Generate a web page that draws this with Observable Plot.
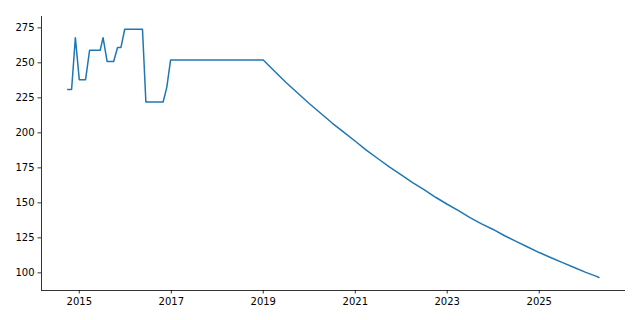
<!DOCTYPE html>
<html>
<head>
<meta charset="utf-8">
<script src="https://cdn.jsdelivr.net/npm/d3@7"></script>
<script src="https://cdn.jsdelivr.net/npm/@observablehq/plot@0.6"></script>
<style>
  html, body { margin: 0; padding: 0; background: #fff; }
  #chart svg { display: block; }
</style>
</head>
<body>
<div id="chart"></div>
<script>
// Dates and values
const dates = [
  "2014-10-01", "2014-11-01", "2014-12-01", "2015-01-01", "2015-02-20",
  "2015-03-24", "2015-06-16", "2015-07-09", "2015-08-10", "2015-10-01",
  "2015-11-01", "2015-11-28", "2015-12-28", "2016-05-17", "2016-06-13",
  "2016-10-28", "2016-11-26", "2016-12-26",
  "2019-01-01", "2019-04-01", "2019-07-01", "2019-10-01",
  "2020-01-01", "2020-04-01", "2020-07-01", "2020-10-01",
  "2021-01-01", "2021-04-01", "2021-07-01", "2021-10-01",
  "2022-01-01", "2022-04-01", "2022-07-01", "2022-10-01",
  "2023-01-01", "2023-04-01", "2023-07-01", "2023-10-01",
  "2024-01-01", "2024-04-01", "2024-07-01", "2024-10-01",
  "2025-01-01", "2025-04-01", "2025-07-01", "2025-10-01",
  "2026-01-01", "2026-04-01", "2026-04-20"
];
const values = [
  231, 231, 268, 238, 238,
  259, 259, 268, 251, 251,
  261, 261, 274, 274, 222,
  222, 232.5, 252,
  252, 244, 236, 228.5,
  221, 214, 207, 200.5,
  194, 187.5, 181.5, 175.5,
  170, 164.5, 159.5, 154,
  149, 144.5, 139.5, 135,
  131, 126.5, 122.5, 118.5,
  114.5, 111, 107.5, 104,
  100.5, 97.5, 96.7
];
const xTickYears = [2015, 2017, 2019, 2021, 2023, 2025];
const yTicks = [100, 125, 150, 175, 200, 225, 250, 275];

const data = dates.map((d, i) => ({date: new Date(d + "T00:00:00Z"), value: values[i]}));
const xTicks = xTickYears.map(y => new Date(Date.UTC(y, 0, 1)));
const xDomain = [new Date(Date.UTC(2014, 2, 7)), new Date(Date.UTC(2026, 10, 17))];
const yDomain = [87.4, 283.1];

const chart = Plot.plot({
  width: 640,
  height: 320,
  marginLeft: 41,
  marginRight: 15,
  marginTop: 16,
  marginBottom: 30,
  style: {fontFamily: "DejaVu Sans", fontSize: "10px", color: "#000", background: "#fff"},
  x: {type: "utc", domain: xDomain},
  y: {domain: yDomain},
  marks: [
    Plot.line(data, {x: "date", y: "value", stroke: "#1f77b4", strokeWidth: 1.5, strokeLinejoin: "round"}),
    Plot.axisX({ticks: xTicks, tickFormat: d3.utcFormat("%Y"), tickSize: 3.5, tickPadding: 3.5, label: null, strokeWidth: 0.8, fontSize: 10}),
    Plot.axisY({ticks: yTicks, tickSize: 3.5, tickPadding: 3.5, label: null, strokeWidth: 0.8, fontSize: 10}),
    Plot.ruleX([xDomain[0]], {stroke: "#000", strokeWidth: 0.8}),
    Plot.ruleY([yDomain[0]], {stroke: "#000", strokeWidth: 0.8})
  ]
});
document.getElementById("chart").appendChild(chart);
</script>
</body>
</html>
